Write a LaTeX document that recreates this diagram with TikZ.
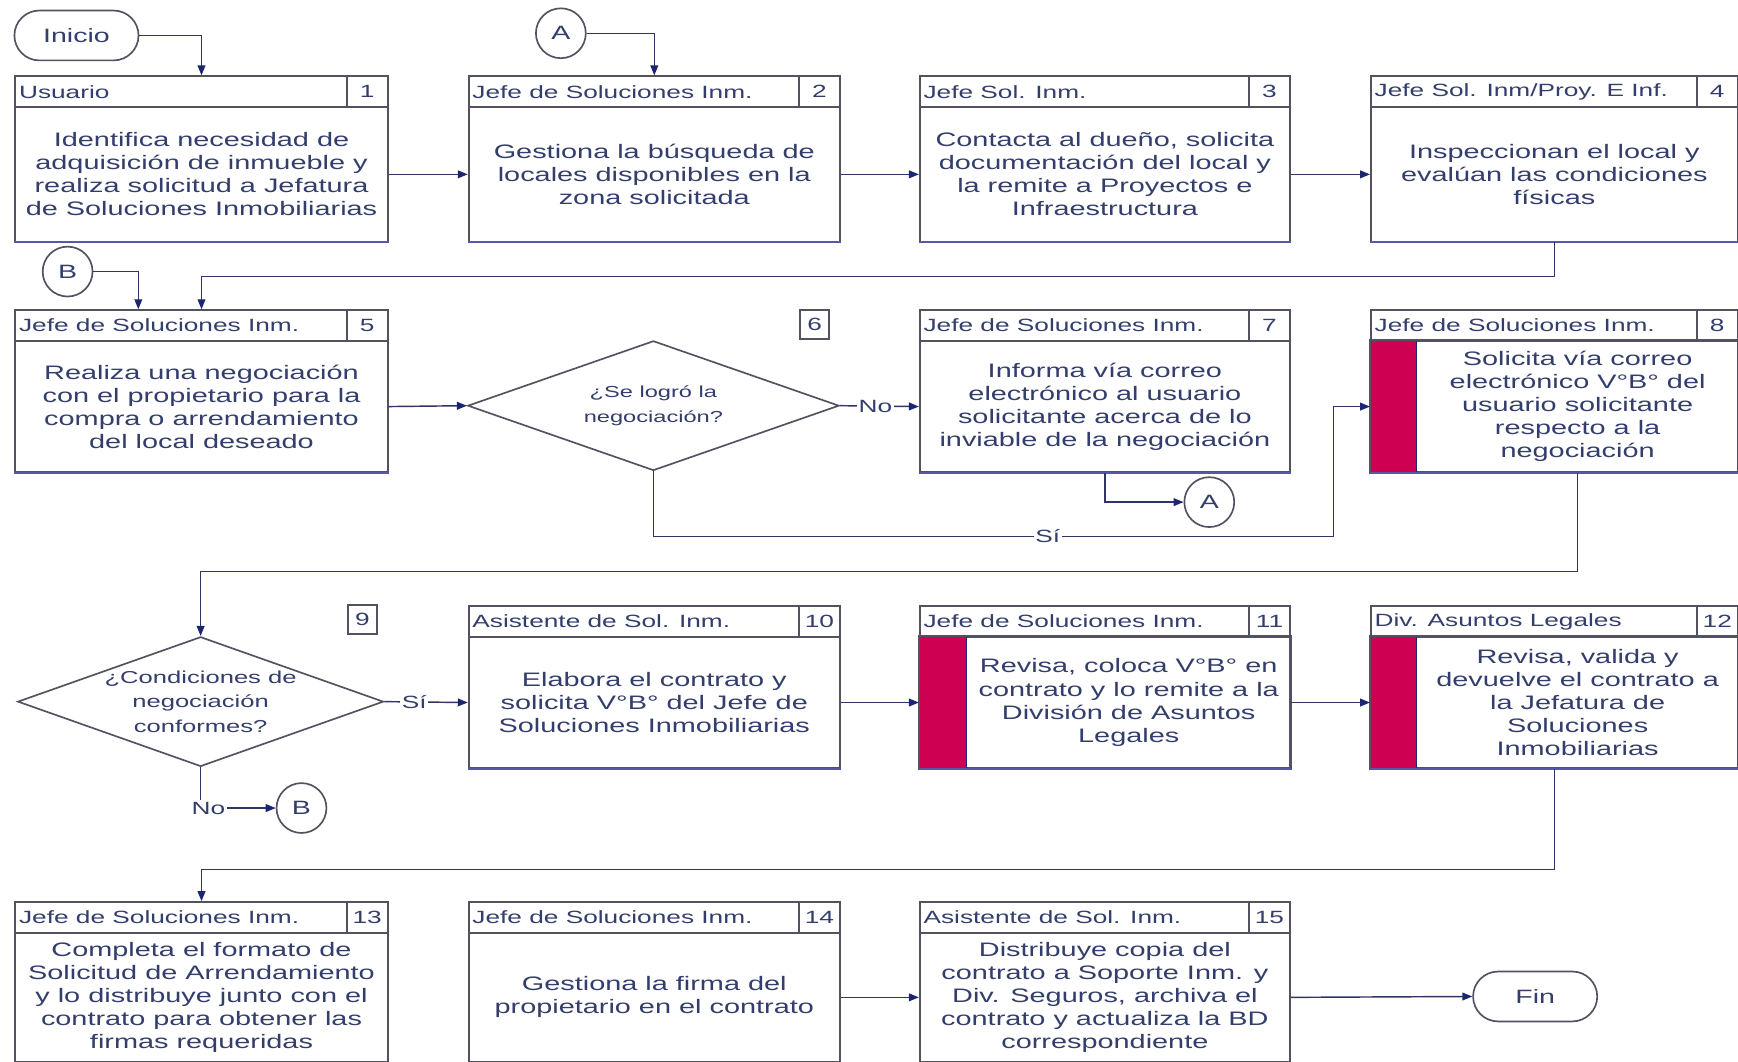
\documentclass[tikz,border=0pt]{standalone}
\usepackage{fontspec}
\setmainfont{Liberation Sans}[FakeStretch=1.48]
\usetikzlibrary{arrows.meta,shapes.geometric,shapes.misc}

\definecolor{inkblue}{RGB}{52,62,108}
\definecolor{framegray}{RGB}{82,82,96}
\definecolor{edgeblue}{RGB}{88,88,170}
\definecolor{wire}{RGB}{48,54,100}
\definecolor{tipnavy}{RGB}{28,38,112}
\definecolor{barred}{RGB}{206,0,82}

\tikzset{
  frame/.style={draw=framegray, line width=1.6pt, inner sep=0pt, fill=white},
  hdrtext/.style={text=inkblue, font=\fontsize{16}{18}\selectfont, inner sep=0pt},
  numcell/.style={frame, minimum width=37pt, minimum height=28pt, text=inkblue,
    font=\fontsize{16}{18}\selectfont},
  bodytext/.style={text=inkblue, align=center, font=\fontsize{17.6}{20.8}\selectfont, inner sep=0pt},
  term/.style={rounded rectangle, draw=framegray, line width=1.5pt, minimum width=112pt,
    minimum height=45pt, inner sep=0pt, fill=white, text=inkblue, font=\fontsize{17.4}{20}\selectfont},
  conn/.style={circle, draw=framegray, line width=1.5pt, minimum size=45pt, inner sep=0pt,
    fill=white, text=inkblue, font=\fontsize{17.4}{20}\selectfont},
  decision/.style={diamond, draw=framegray, line width=1.5pt, inner sep=0pt, fill=white},
  qtext/.style={text=inkblue, align=center, inner sep=0pt},
  tag/.style={frame, minimum size=26pt, text=inkblue, font=\fontsize{16}{18}\selectfont},
  flow/.style={draw=wire, line width=1.3pt, -{Triangle[length=9pt,width=7pt,color=tipnavy]}},
  lbl/.style={fill=white, text=inkblue, font=\fontsize{16}{18}\selectfont, inner sep=1.5pt},
}

% Activity box: [bar width] id, left, top, width, height, role, number, description
\newcommand{\actbox}[9][0]{%
  \node[frame, anchor=north west, minimum width=#5pt, minimum height=28pt] (#2h) at (#3,#4) {};
  \node[numcell, anchor=north east] (#2n) at (#2h.north east) {#8};
  \node[hdrtext, anchor=west] (#2l) at ([xshift=4pt]#2h.west) {#7};
  \draw[edgeblue, line width=1.6pt] (#2h.south west) -- (#2h.south east);
  \node[frame, anchor=north west, minimum width=#5pt, minimum height={(#6-28)*1pt}] (#2) at (#3,#4+28) {};
  \ifdim#1pt>0pt
    \fill[barred] (#2.north west) rectangle ([xshift=#1pt]#2.south west);
    \draw[tipnavy, line width=1.6pt] ([xshift=#1pt]#2.north west) -- ([xshift=#1pt]#2.south west);
    \draw[framegray, line width=1.6pt] (#2.north west) rectangle (#2.south east);
  \fi
  \draw[edgeblue, line width=1.6pt] (#2.south west) -- (#2.south east);
  \node[bodytext] (#2t) at ([xshift=#1pt/2]#2.center) {#9};
}

\begin{document}
\begin{tikzpicture}[x=1pt,y=-1pt]
\fill[white] (0,0) rectangle (1568,958);
\useasboundingbox (0,0) rectangle (1568,958);

% start, connectors and end
\node[term] (ini) at (69,32) {Inicio};
\node[conn] (cA1) at (506,30) {A};
\node[conn] (cB1) at (61,245) {B};
\node[conn] (cA2) at (1091,453) {A};
\node[conn] (cB2) at (272,729) {B};
\node[term] (fin) at (1385,899) {Fin};

% row 1
\actbox{b1}{13}{68}{336}{149}{Usuario}{1}{Identifica necesidad de\\adquisición de inmueble y\\realiza solicitud a Jefatura\\de Soluciones Inmobiliarias}
\actbox{b2}{422}{68}{335}{149}{Jefe de Soluciones Inm.}{2}{Gestiona la búsqueda de\\locales disponibles en la\\zona solicitada}
\actbox{b3}{829}{68}{334}{149}{Jefe Sol. Inm.}{3}{Contacta al dueño, solicita\\documentación del local y\\la remite a Proyectos e\\Infraestructura}
\actbox{b4}{1236}{68}{331}{149}{Jefe Sol. Inm/Proy. E Inf.}{4}{Inspeccionan el local y\\evalúan las condiciones\\físicas}

% row 2
\actbox{b5}{13}{279}{336}{146}{Jefe de Soluciones Inm.}{5}{Realiza una negociación\\con el propietario para la\\compra o arrendamiento\\del local deseado}
\node[decision, minimum width=335pt, minimum height=117pt] (d6) at (589.5,366) {};
\node[qtext, font=\fontsize{14.4}{22}\selectfont] (d6t) at (d6.center) {¿Se logró la\\negociación?};
\node[tag] (t6) at (735,292.5) {6};
\actbox{b7}{829}{279}{334}{146}{Jefe de Soluciones Inm.}{7}{Informa vía correo\\electrónico al usuario\\solicitante acerca de lo\\inviable de la negociación}
\actbox[42]{b8}{1236}{279}{331}{146}{Jefe de Soluciones Inm.}{8}{Solicita vía correo\\electrónico V°B° del\\usuario solicitante\\respecto a la\\negociación}

% row 3
\node[decision, minimum width=330pt, minimum height=117pt] (d9) at (181,633) {};
\node[qtext, font=\fontsize{15.6}{22}\selectfont] (d9t) at (d9.center) {¿Condiciones de\\negociación\\conformes?};
\node[tag] (t9) at (327,559) {9};
\actbox{b10}{422}{546}{335}{146}{Asistente de Sol. Inm.}{10}{Elabora el contrato y\\solicita V°B° del Jefe de\\Soluciones Inmobiliarias}
\actbox[43]{b11}{829}{546}{334}{146}{Jefe de Soluciones Inm.}{11}{Revisa, coloca V°B° en\\contrato y lo remite a la\\División de Asuntos\\Legales}
\actbox[42]{b12}{1236}{546}{331}{146}{Div. Asuntos Legales}{12}{Revisa, valida y\\devuelve el contrato a\\la Jefatura de\\Soluciones\\Inmobiliarias}

% row 4
\actbox{b13}{13}{813}{336}{144}{Jefe de Soluciones Inm.}{13}{Completa el formato de\\Solicitud de Arrendamiento\\y lo distribuye junto con el\\contrato para obtener las\\firmas requeridas}
\actbox{b14}{422}{813}{335}{144}{Jefe de Soluciones Inm.}{14}{Gestiona la firma del\\propietario en el contrato}
\actbox{b15}{829}{813}{334}{144}{Asistente de Sol. Inm.}{15}{Distribuye copia del\\contrato a Soporte Inm. y\\Div. Seguros, archiva el\\contrato y actualiza la BD\\correspondiente}

% flow
\coordinate (j6) at (1203,484);
\draw[flow] (ini.east) -| (b1h.north);
\draw[flow] (cA1.east) -| (b2h.north);
\draw[flow] (b1.east) -- (b2.west);
\draw[flow] (b2.east) -- (b3.west);
\draw[flow] (b3.east) -- (b4.west);
\draw[flow] (b4.south) -- ++(0,31) -| (b5h.north);
\draw[flow] (cB1.east) -| ([xshift=-57pt]b5h.north);
\draw[flow] (b5.east) -- (d6.west);
\draw[flow] (d6.east) -- node[lbl,pos=0.45]{No} (b7.west);
\draw[flow] (b7.south) |- (cA2.west);
\draw[flow] (d6.south) |- node[lbl,pos=0.79]{Sí} (j6) |- (b8.west);
\draw[flow] (b8t.center |- b8.south) -- ++(0,89) -| (d9.north);
\draw[flow] (d9.east) -- node[lbl,pos=0.36]{Sí} (b10.west);
\draw[flow] (d9.south) |- node[lbl,pos=0.5,xshift=7pt]{No} (cB2.west);
\draw[flow] (b10.east) -- (b11.west);
\draw[flow] (b11.east) -- (b12.west);
\draw[flow] (b12.south) -- ++(0,91) -| (b13h.north);
\draw[flow] (b14.east) -- (b15.west);
\draw[flow] (b15.east) -- (fin.west);
\end{tikzpicture}
\end{document}
